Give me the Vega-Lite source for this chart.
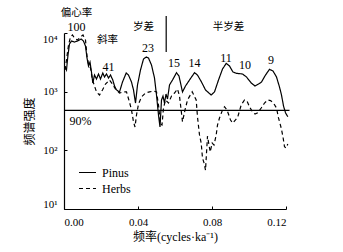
{
  "$schema": "https://vega.github.io/schema/vega-lite/v6.json",
  "width": 222,
  "height": 176,
  "autosize": "none",
  "padding": {"left": 64, "top": 33, "right": 57, "bottom": 43},
  "background": "white",
  "config": {
    "view": {"stroke": null},
    "axis": {
      "grid": false,
      "domainColor": "black",
      "domainWidth": 1.2,
      "tickColor": "black",
      "tickSize": -3,
      "tickWidth": 1,
      "labelFont": "Liberation Serif",
      "labelFontSize": 11,
      "labelColor": "black",
      "labelFlush": true,
      "titleFont": "Liberation Serif, Noto Sans CJK SC",
      "titleFontWeight": "normal",
      "titleColor": "black",
      "titleFontSize": 12
    }
  },
  "datasets": {
    "curves": [
      {"s":"Pinus","f":0.00065,"p":2630},{"s":"Pinus","f":0.00135,"p":2340},{"s":"Pinus","f":0.00216,"p":4220},{"s":"Pinus","f":0.00297,"p":6490},{"s":"Pinus","f":0.00405,"p":7300},{"s":"Pinus","f":0.00568,"p":7020},{"s":"Pinus","f":0.0073,"p":7300},{"s":"Pinus","f":0.0093,"p":7890},{"s":"Pinus","f":0.0105,"p":7300},{"s":"Pinus","f":0.01162,"p":6000},{"s":"Pinus","f":0.01243,"p":3750},{"s":"Pinus","f":0.01324,"p":2740},{"s":"Pinus","f":0.01405,"p":3200},{"s":"Pinus","f":0.01486,"p":2160},{"s":"Pinus","f":0.01557,"p":1405},{"s":"Pinus","f":0.01649,"p":1920},{"s":"Pinus","f":0.01757,"p":1645},{"s":"Pinus","f":0.01865,"p":2000},{"s":"Pinus","f":0.01973,"p":1645},{"s":"Pinus","f":0.02097,"p":2080},{"s":"Pinus","f":0.02189,"p":1780},{"s":"Pinus","f":0.02297,"p":2000},{"s":"Pinus","f":0.02405,"p":1710},{"s":"Pinus","f":0.02514,"p":1920},{"s":"Pinus","f":0.02638,"p":1580},{"s":"Pinus","f":0.0273,"p":1250},{"s":"Pinus","f":0.02838,"p":1070},{"s":"Pinus","f":0.03,"p":990},{"s":"Pinus","f":0.03162,"p":1460},{"s":"Pinus","f":0.03362,"p":2080},{"s":"Pinus","f":0.03486,"p":1920},{"s":"Pinus","f":0.03649,"p":1460},{"s":"Pinus","f":0.03757,"p":1070},{"s":"Pinus","f":0.03865,"p":640},{"s":"Pinus","f":0.03973,"p":1300},{"s":"Pinus","f":0.04135,"p":2340},{"s":"Pinus","f":0.04297,"p":3600},{"s":"Pinus","f":0.04443,"p":3890},{"s":"Pinus","f":0.04568,"p":3740},{"s":"Pinus","f":0.0473,"p":2840},{"s":"Pinus","f":0.04892,"p":1710},{"s":"Pinus","f":0.05,"p":877},{"s":"Pinus","f":0.05108,"p":400},{"s":"Pinus","f":0.05189,"p":250},{"s":"Pinus","f":0.0527,"p":721},{"s":"Pinus","f":0.05351,"p":843},{"s":"Pinus","f":0.05432,"p":640},{"s":"Pinus","f":0.05514,"p":912},{"s":"Pinus","f":0.05595,"p":750},{"s":"Pinus","f":0.05703,"p":1300},{"s":"Pinus","f":0.05865,"p":1580},{"s":"Pinus","f":0.06081,"p":2105},{"s":"Pinus","f":0.06216,"p":1850},{"s":"Pinus","f":0.06405,"p":990},{"s":"Pinus","f":0.06568,"p":1250},{"s":"Pinus","f":0.06784,"p":1580},{"s":"Pinus","f":0.07054,"p":2105},{"s":"Pinus","f":0.07216,"p":1920},{"s":"Pinus","f":0.07432,"p":1460},{"s":"Pinus","f":0.07649,"p":1070},{"s":"Pinus","f":0.07957,"p":877},{"s":"Pinus","f":0.08135,"p":990},{"s":"Pinus","f":0.08351,"p":1580},{"s":"Pinus","f":0.08568,"p":2430},{"s":"Pinus","f":0.08768,"p":3040},{"s":"Pinus","f":0.08946,"p":2740},{"s":"Pinus","f":0.09135,"p":2160},{"s":"Pinus","f":0.09324,"p":2055},{"s":"Pinus","f":0.09649,"p":2000},{"s":"Pinus","f":0.09865,"p":1780},{"s":"Pinus","f":0.10119,"p":1405},{"s":"Pinus","f":0.10324,"p":1250},{"s":"Pinus","f":0.10514,"p":1350},{"s":"Pinus","f":0.10676,"p":1460},{"s":"Pinus","f":0.10892,"p":1920},{"s":"Pinus","f":0.11108,"p":2405},{"s":"Pinus","f":0.11297,"p":2250},{"s":"Pinus","f":0.11486,"p":1780},{"s":"Pinus","f":0.11649,"p":1200},{"s":"Pinus","f":0.11757,"p":877},{"s":"Pinus","f":0.11865,"p":570},{"s":"Pinus","f":0.11973,"p":437},{"s":"Pinus","f":0.12097,"p":374},
      {"s":"Herbs","f":0.00054,"p":2340},{"s":"Herbs","f":0.00135,"p":3470},{"s":"Herbs","f":0.00243,"p":6240},{"s":"Herbs","f":0.00351,"p":8550},{"s":"Herbs","f":0.00459,"p":9250},{"s":"Herbs","f":0.00568,"p":8200},{"s":"Herbs","f":0.0073,"p":7590},{"s":"Herbs","f":0.00892,"p":8550},{"s":"Herbs","f":0.01027,"p":9250},{"s":"Herbs","f":0.01162,"p":7590},{"s":"Herbs","f":0.01243,"p":4050},{"s":"Herbs","f":0.01324,"p":2960},{"s":"Herbs","f":0.01432,"p":2530},{"s":"Herbs","f":0.0154,"p":1580},{"s":"Herbs","f":0.01649,"p":1250},{"s":"Herbs","f":0.01757,"p":990},{"s":"Herbs","f":0.01919,"p":877},{"s":"Herbs","f":0.02081,"p":1070},{"s":"Herbs","f":0.02243,"p":1350},{"s":"Herbs","f":0.02459,"p":1580},{"s":"Herbs","f":0.02622,"p":1350},{"s":"Herbs","f":0.02784,"p":1110},{"s":"Herbs","f":0.03,"p":949},{"s":"Herbs","f":0.03216,"p":990},{"s":"Herbs","f":0.03378,"p":990},{"s":"Herbs","f":0.0354,"p":665},{"s":"Herbs","f":0.03649,"p":487},{"s":"Herbs","f":0.03757,"p":304},{"s":"Herbs","f":0.03838,"p":250},{"s":"Herbs","f":0.03919,"p":400},{"s":"Herbs","f":0.04027,"p":616},{"s":"Herbs","f":0.04189,"p":811},{"s":"Herbs","f":0.04405,"p":949},{"s":"Herbs","f":0.04622,"p":990},{"s":"Herbs","f":0.04838,"p":1025},{"s":"Herbs","f":0.05,"p":990},{"s":"Herbs","f":0.05108,"p":593},{"s":"Herbs","f":0.05216,"p":281},{"s":"Herbs","f":0.05297,"p":270},{"s":"Herbs","f":0.05378,"p":527},{"s":"Herbs","f":0.05486,"p":721},{"s":"Herbs","f":0.05649,"p":640},{"s":"Herbs","f":0.05811,"p":843},{"s":"Herbs","f":0.05973,"p":949},{"s":"Herbs","f":0.06135,"p":1110},{"s":"Herbs","f":0.06243,"p":843},{"s":"Herbs","f":0.06405,"p":307},{"s":"Herbs","f":0.0654,"p":487},{"s":"Herbs","f":0.06676,"p":721},{"s":"Herbs","f":0.0693,"p":998},{"s":"Herbs","f":0.07146,"p":721},{"s":"Herbs","f":0.07216,"p":370},{"s":"Herbs","f":0.07324,"p":183},{"s":"Herbs","f":0.07416,"p":133},{"s":"Herbs","f":0.07486,"p":74},{"s":"Herbs","f":0.07568,"p":61},{"s":"Herbs","f":0.07649,"p":46},{"s":"Herbs","f":0.07703,"p":90},{"s":"Herbs","f":0.07757,"p":175},{"s":"Herbs","f":0.07838,"p":123},{"s":"Herbs","f":0.07903,"p":94},{"s":"Herbs","f":0.08011,"p":133},{"s":"Herbs","f":0.08108,"p":123},{"s":"Herbs","f":0.08227,"p":183},{"s":"Herbs","f":0.08297,"p":270},{"s":"Herbs","f":0.08405,"p":356},{"s":"Herbs","f":0.08568,"p":487},{"s":"Herbs","f":0.08676,"p":554},{"s":"Herbs","f":0.08811,"p":487},{"s":"Herbs","f":0.08908,"p":400},{"s":"Herbs","f":0.09,"p":329},{"s":"Herbs","f":0.09124,"p":292},{"s":"Herbs","f":0.0927,"p":329},{"s":"Herbs","f":0.09395,"p":374},{"s":"Herbs","f":0.09578,"p":593},{"s":"Herbs","f":0.09757,"p":721},{"s":"Herbs","f":0.09892,"p":693},{"s":"Herbs","f":0.10027,"p":554},{"s":"Herbs","f":0.10189,"p":450},{"s":"Herbs","f":0.10324,"p":417},{"s":"Herbs","f":0.10476,"p":437},{"s":"Herbs","f":0.10659,"p":527},{"s":"Herbs","f":0.10838,"p":640},{"s":"Herbs","f":0.11016,"p":721},{"s":"Herbs","f":0.11162,"p":705},{"s":"Herbs","f":0.11324,"p":640},{"s":"Herbs","f":0.11486,"p":527},{"s":"Herbs","f":0.11595,"p":356},{"s":"Herbs","f":0.11741,"p":240},{"s":"Herbs","f":0.11838,"p":169},{"s":"Herbs","f":0.11919,"p":115},{"s":"Herbs","f":0.12,"p":110},{"s":"Herbs","f":0.12097,"p":128}
    ],
    "nums": [
      {"t":"100","f":0.00676,"p":12650},
      {"t":"41","f":0.02405,"p":2630},
      {"t":"23","f":0.0454,"p":5550},
      {"t":"15","f":0.05946,"p":3080},
      {"t":"14","f":0.07054,"p":3080},
      {"t":"11","f":0.08757,"p":3750},
      {"t":"10","f":0.09784,"p":2900},
      {"t":"9","f":0.1119,"p":3530},
      {"t":"90%","f":0.00892,"p":322}
    ],
    "cjk": [
      {"t":"偏心率","f":0.00676,"p":21500},
      {"t":"斜率","f":0.02351,"p":7600},
      {"t":"岁差","f":0.04297,"p":12900},
      {"t":"半岁差","f":0.08892,"p":12900}
    ],
    "hline": [{"f":0,"f2":0.1219,"p":480}],
    "vline": [{"f":0.05524,"p":19500,"p2":4740}]
  },
  "layer": [
    {
      "data": {"name": "curves"},
      "mark": {"type": "line", "color": "black", "strokeWidth": 1.2, "interpolate": "linear"},
      "encoding": {
        "x": {"field": "f", "type": "quantitative", "scale": {"domain": [0, 0.12], "nice": false, "zero": false},
              "axis": {"values": [0, 0.02, 0.04, 0.06, 0.08, 0.1, 0.12], "format": ".2f", "labelPadding": 10, "title": "频率(cycles·ka⁻¹)", "titlePadding": 4}},
        "y": {"field": "p", "type": "quantitative", "scale": {"type": "log", "domain": [10, 10000], "nice": false},
              "axis": {"values": [10, 100, 1000, 10000], "labelExpr": "datum.value == 10 ? '10¹' : datum.value == 100 ? '10²' : datum.value == 1000 ? '10³' : '10⁴'", "labelPadding": 10, "title": "频谱强度", "titlePadding": 6}},
        "strokeDash": {"field": "s", "type": "nominal",
              "scale": {"domain": ["Pinus", "Herbs"], "range": [[1, 0], [4, 3]]},
              "legend": {"orient": "none", "legendX": 14, "legendY": 130, "title": null, "symbolType": "stroke", "symbolSize": 289, "symbolStrokeColor": "black", "symbolStrokeWidth": 1.2, "labelFont": "Liberation Serif", "labelFontSize": 12, "labelColor": "black", "labelOffset": 5, "rowPadding": 0}},
        "order": {"field": "f", "type": "quantitative"}
      }
    },
    {
      "data": {"name": "hline"},
      "mark": {"type": "rule", "color": "black", "strokeWidth": 1.2},
      "encoding": {
        "x": {"field": "f", "type": "quantitative"},
        "x2": {"field": "f2"},
        "y": {"field": "p", "type": "quantitative"}
      }
    },
    {
      "data": {"name": "vline"},
      "mark": {"type": "rule", "color": "black", "strokeWidth": 1.2},
      "encoding": {
        "x": {"field": "f", "type": "quantitative"},
        "y": {"field": "p", "type": "quantitative"},
        "y2": {"field": "p2"}
      }
    },
    {
      "data": {"name": "nums"},
      "mark": {"type": "text", "font": "Liberation Serif", "fontSize": 12, "color": "black", "align": "center", "baseline": "middle"},
      "encoding": {
        "x": {"field": "f", "type": "quantitative"},
        "y": {"field": "p", "type": "quantitative"},
        "text": {"field": "t"}
      }
    },
    {
      "data": {"name": "cjk"},
      "mark": {"type": "text", "font": "Noto Sans CJK SC", "fontSize": 10.5, "color": "black", "align": "center", "baseline": "middle"},
      "encoding": {
        "x": {"field": "f", "type": "quantitative"},
        "y": {"field": "p", "type": "quantitative"},
        "text": {"field": "t"}
      }
    }
  ]
}
